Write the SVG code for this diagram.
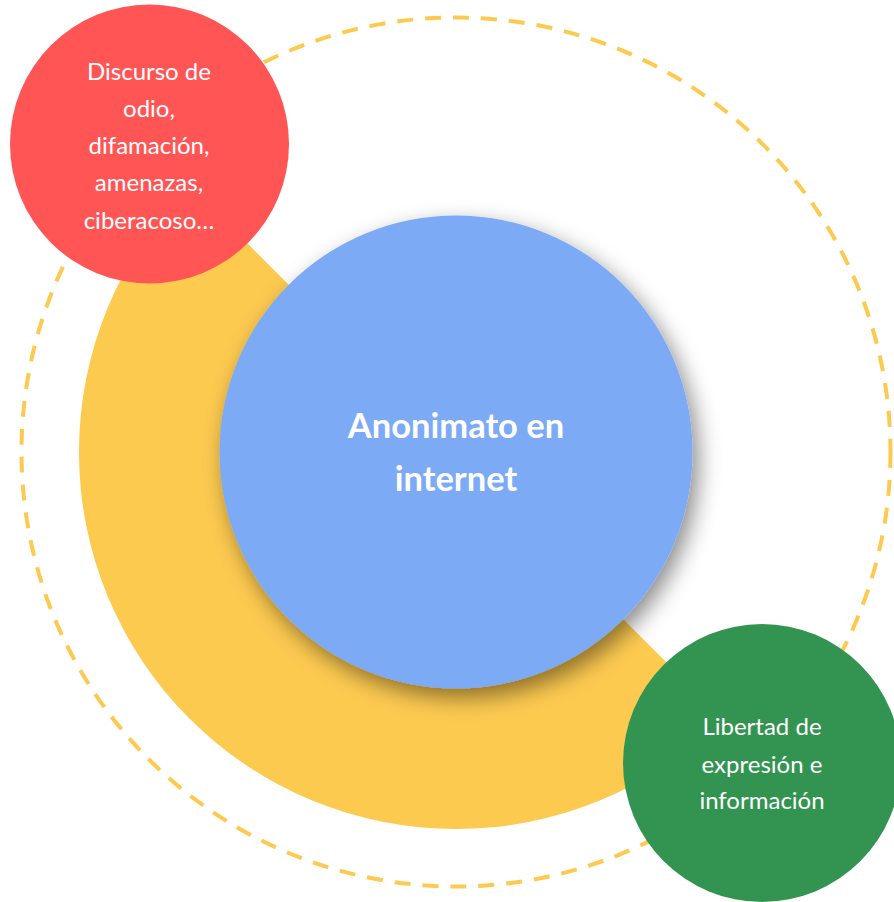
<svg xmlns="http://www.w3.org/2000/svg" width="894" height="902" viewBox="0 0 894 902">
<defs>
<filter id="shadow" x="-20%" y="-20%" width="150%" height="150%">
<feDropShadow dx="6" dy="9" stdDeviation="11" flood-color="#000" flood-opacity="0.45"/>
</filter>
</defs>
<style>
.lbl{font-family:Lato,"Noto Sans","Liberation Sans",sans-serif;fill:#fff;text-anchor:middle}
.sm{font-size:24px}
.big{font-size:34.5px;font-weight:bold}
</style>
<rect width="894" height="902" fill="#fff"/>
<g id="connectors">
<circle cx="456" cy="452" r="434.5" fill="none" stroke="#FDC94F" stroke-width="4" stroke-dasharray="16 12"/>
<path d="M456,452 L189.4,185.4 A377,377 0 0 0 722.6,718.6 Z" fill="#FDCA50"/>
</g>
<g id="center">
<circle cx="456" cy="452" r="236.5" fill="#7BAAF5" filter="url(#shadow)"/>
<text class="lbl big" x="456" y="438">Anonimato en</text>
<text class="lbl big" x="456" y="491">internet</text>
</g>
<g id="red">
<circle cx="149.5" cy="144" r="139.5" fill="#FF5555"/>
<text class="lbl sm" x="149" y="80">Discurso de</text>
<text class="lbl sm" x="149" y="117">odio,</text>
<text class="lbl sm" x="149" y="154">difamación,</text>
<text class="lbl sm" x="149" y="191">amenazas,</text>
<text class="lbl sm" x="149" y="229">ciberacoso…</text>
</g>
<g id="green">
<circle cx="762" cy="763" r="139" fill="#339452"/>
<text class="lbl sm" x="762" y="735">Libertad de</text>
<text class="lbl sm" x="762" y="773">expresión e</text>
<text class="lbl sm" x="762" y="809">información</text>
</g>
</svg>
